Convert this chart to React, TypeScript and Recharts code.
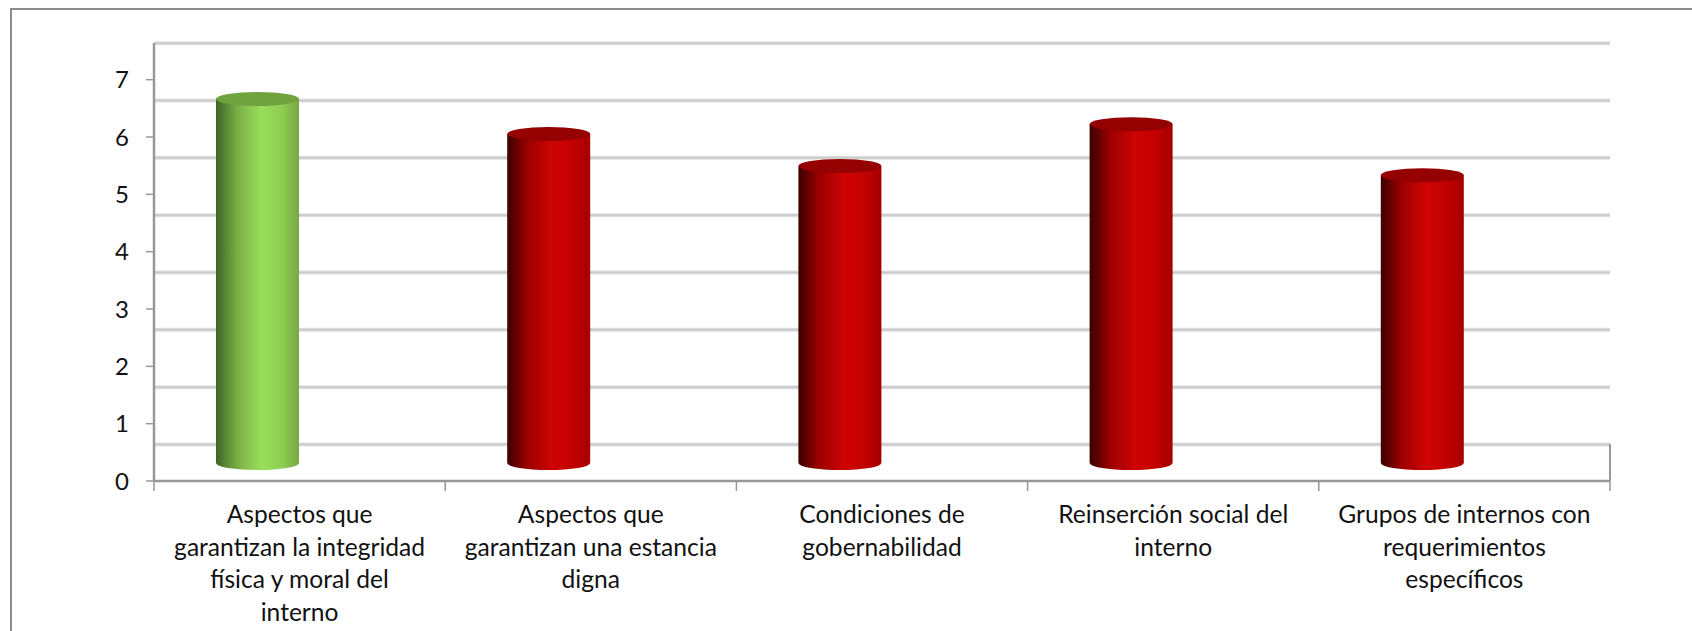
import { BarChart, Bar, XAxis, YAxis, CartesianGrid } from 'recharts';

const categories = [
  'Aspectos que garantizan la integridad física y moral del interno',
  'Aspectos que garantizan una estancia digna',
  'Condiciones de gobernabilidad',
  'Reinserción social del interno',
  'Grupos de internos con requerimientos específicos',
];
const scores = [6.35, 5.74, 5.18, 5.91, 5.02];
const yTicks = [0, 1, 2, 3, 4, 5, 6, 7];
const labelLines = [
  ['Aspectos que', 'garantizan la integridad', 'física y moral del', 'interno'],
  ['Aspectos que', 'garantizan una estancia', 'digna'],
  ['Condiciones de', 'gobernabilidad'],
  ['Reinserción social del', 'interno'],
  ['Grupos de internos con', 'requerimientos', 'específicos'],
];

const PASS_SCORE = 6;
const FONT = 'Lato, "Open Sans", sans-serif';
const AXIS_COLOR = '#989898';

// the old chart is fake 3D: bars and grid sit back from the front axes
const DEPTH_X = -42;
const BAR_DEPTH_Y = -18;
const WALL_DEPTH_Y = -36.5;
const ELLIPSE_RY = 7;

const chartData = categories.map((name, i) => ({ name, score: scores[i], lines: labelLines[i] }));

function Cylinder(props: any) {
  const { x, y, width, height, payload } = props;
  const pass = payload.score >= PASS_SCORE;
  const left = x + DEPTH_X;
  const top = y + BAR_DEPTH_Y;
  const bottom = top + height;
  const rx = width / 2;
  const body = `M${left},${top} L${left},${bottom} A${rx},${ELLIPSE_RY} 0 0 0 ${left + width},${bottom} L${left + width},${top} Z`;
  return (
    <g>
      <path d={body} fill={pass ? 'url(#cylGreen)' : 'url(#cylRed)'} />
      <ellipse cx={left + rx} cy={top} rx={rx} ry={ELLIPSE_RY} fill={pass ? '#70a23e' : '#950000'} />
    </g>
  );
}

function GridLine(props: any) {
  const { x1, x2, y1 } = props;
  const y = y1 + WALL_DEPTH_Y;
  return (
    <g>
      <line x1={x1} x2={x2} y1={y} y2={y} stroke="#e2e2e2" strokeWidth={4} />
      <line x1={x1} x2={x2} y1={y} y2={y} stroke="#cbcbcb" strokeWidth={2} />
    </g>
  );
}

function CategoryTick(props: any) {
  const { x, y, payload, index, visibleTicksCount } = props;
  const band = 291.2;
  const lines: string[] = labelLines[payload.index ?? index];
  const last = index === visibleTicksCount - 1;
  const axisY = y - 8;
  return (
    <g>
      <line x1={x - band / 2} x2={x - band / 2} y1={axisY} y2={axisY + 10} stroke={AXIS_COLOR} strokeWidth={1.5} />
      {last && <line x1={x + band / 2} x2={x + band / 2} y1={axisY} y2={axisY + 10} stroke={AXIS_COLOR} strokeWidth={1.5} />}
      <text textAnchor="middle" fontFamily={FONT} fontSize={24.6} fill="#111">
        {lines.map((line, i) => (
          <tspan key={i} x={x} y={y + 34 + i * 32.7}>{line}</tspan>
        ))}
      </text>
    </g>
  );
}

export default function App() {
  return (
    <div style={{ position: 'absolute', left: 0, top: 0, width: 1692, height: 631, background: '#fff', overflow: 'hidden' }}>
      <div style={{ position: 'absolute', left: 10, top: 8, width: 1700, height: 640, borderLeft: '2px solid #8c8c8c', borderTop: '2px solid #8c8c8c' }} />
      <div style={{ position: 'absolute', left: 0, top: 0 }}>
        <BarChart
          width={1692}
          height={631}
          data={chartData}
          margin={{ top: 43, right: 82, bottom: 0, left: 94 }}
          barSize={83}
        >
          <defs>
            <linearGradient id="cylRed" x1="0" y1="0" x2="1" y2="0">
              <stop offset="0%" stopColor="#3a0000" />
              <stop offset="25%" stopColor="#9c0000" />
              <stop offset="55%" stopColor="#cf0404" />
              <stop offset="80%" stopColor="#c20000" />
              <stop offset="100%" stopColor="#a40000" />
            </linearGradient>
            <linearGradient id="cylGreen" x1="0" y1="0" x2="1" y2="0">
              <stop offset="0%" stopColor="#3d6522" />
              <stop offset="25%" stopColor="#79ad45" />
              <stop offset="55%" stopColor="#9ade5a" />
              <stop offset="80%" stopColor="#8ecd50" />
              <stop offset="100%" stopColor="#78a845" />
            </linearGradient>
          </defs>
          <CartesianGrid horizontal={GridLine} vertical={false} horizontalValues={yTicks} />
          <XAxis
            dataKey="name"
            height={150}
            interval={0}
            axisLine={{ stroke: AXIS_COLOR, strokeWidth: 2.5 }}
            tickLine={false}
            tick={CategoryTick}
          />
          <YAxis
            width={60}
            domain={[0, 7.64]}
            ticks={yTicks}
            allowDataOverflow
            axisLine={{ stroke: AXIS_COLOR, strokeWidth: 2.5 }}
            tickLine={{ stroke: AXIS_COLOR, strokeWidth: 1.5 }}
            tickSize={8}
            tickMargin={17}
            tick={{ fill: '#111', fontSize: 24, fontFamily: FONT }}
          />
          {/* right wall edge */}
          <line x1={1610} x2={1610} y1={444} y2={481} stroke={AXIS_COLOR} strokeWidth={2} />
          <Bar dataKey="score" shape={Cylinder} isAnimationActive={false} />
        </BarChart>
      </div>
    </div>
  );
}
